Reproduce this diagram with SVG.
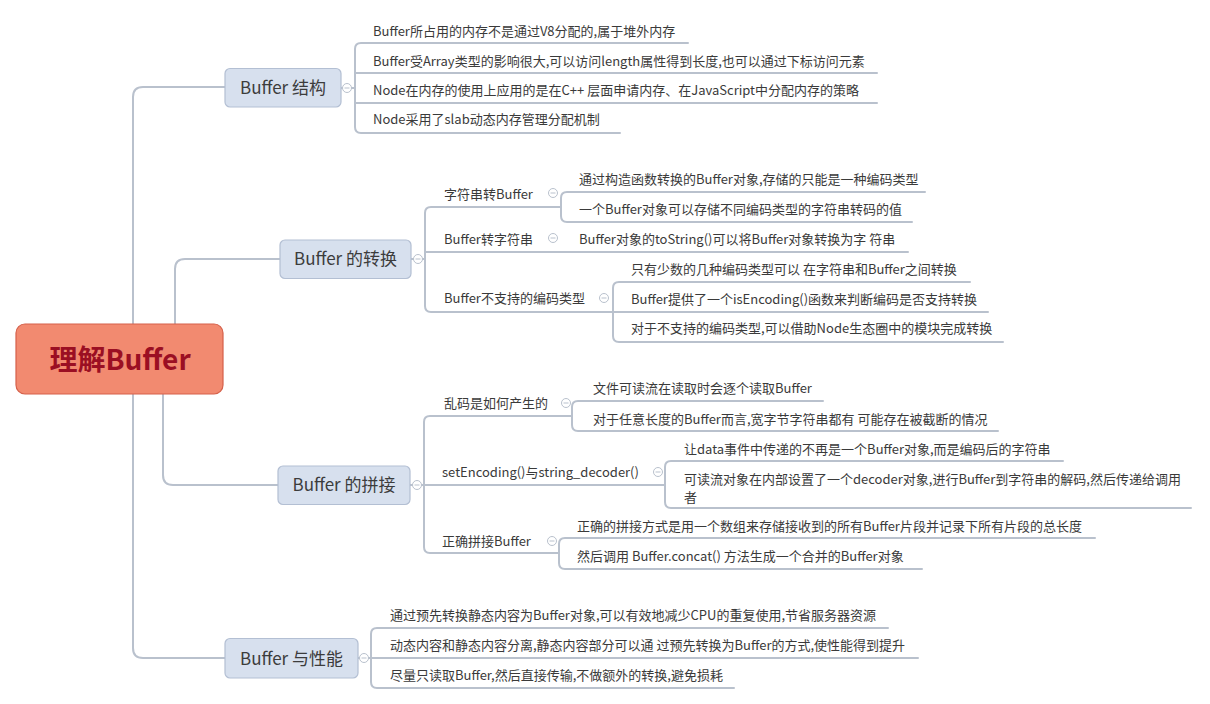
<svg xmlns="http://www.w3.org/2000/svg" width="1210" height="704" viewBox="0 0 1210 704">
<style>
.ln{fill:none;stroke:#b9c1cd;stroke-width:2;stroke-linecap:round;stroke-linejoin:round}
.tp{fill:#d7e0ee;stroke:#b3bfd3;stroke-width:1.2}
.tt{font-family:"Noto Sans CJK SC","Noto Sans",sans-serif;font-size:17px;fill:#3c3c3c;text-anchor:middle}
.t{font-family:"Noto Sans CJK SC","Noto Sans",sans-serif;font-size:13px;fill:#3a3a3a}
.cc{fill:#fff;stroke:#b9c1cd;stroke-width:1}
.cm{stroke:#b9c1cd;stroke-width:1}
</style>
<defs>
<g id="col"><circle class="cc" r="4.5"/><line class="cm" x1="-2.5" y1="0" x2="2.5" y2="0"/></g>
</defs>
<rect width="1210" height="704" fill="#fff"/>
<g id="connectors">
<path class="ln" d="M133 324 V97 Q133 87 143 87 H226"/>
<path class="ln" d="M175 324 V269 Q175 259 185 259 H280"/>
<path class="ln" d="M163 394 V475 Q163 485 173 485 H278"/>
<path class="ln" d="M133 394 V648 Q133 658 143 658 H225"/>
<path class="ln" d="M341 88 H355"/>
<path class="ln" d="M688 43 H361 Q355 43 355 49 V127 Q355 133 361 133 H620"/>
<path class="ln" d="M355 73 H877"/>
<path class="ln" d="M355 103 H877"/>
<path class="ln" d="M411 259 H425"/>
<path class="ln" d="M561 207 H431 Q425 207 425 213 V306 Q425 312 431 312 H613"/>
<path class="ln" d="M425 252 H908"/>
<path class="ln" d="M925 192 H567 Q561 192 561 198 V216 Q561 222 567 222 H912"/>
<path class="ln" d="M970 282 H619 Q613 282 613 288 V336 Q613 342 619 342 H1003"/>
<path class="ln" d="M613 312 H988"/>
<path class="ln" d="M410 485 H424"/>
<path class="ln" d="M572 416 H430 Q424 416 424 422 V547 Q424 553 430 553 H559"/>
<path class="ln" d="M424 485 H665"/>
<path class="ln" d="M823 401 H578 Q572 401 572 407 V425 Q572 431 578 431 H998"/>
<path class="ln" d="M1063 461 H671 Q665 461 665 467 V502 Q665 508 671 508 H1191"/>
<path class="ln" d="M1095 538 H565 Q559 538 559 544 V563 Q559 569 565 569 H922"/>
<path class="ln" d="M358 658 H371"/>
<path class="ln" d="M888 628 H377 Q371 628 371 634 V682 Q371 688 377 688 H734"/>
<path class="ln" d="M371 658 H918"/>
</g>
<g id="root">
<rect x="16" y="324" width="207" height="70" rx="9" fill="#f28a70" stroke="#d5604a" stroke-width="1.2"/>
<text x="120" y="369.5" font-family="'Noto Sans CJK SC','Noto Sans',sans-serif" font-size="28" font-weight="bold" fill="#9b0f23" text-anchor="middle">理解Buffer</text>
</g>
<g id="n-struct">
<rect class="tp" x="225" y="68.5" width="116" height="38.5" rx="5"/>
<text class="tt" x="283" y="94">Buffer 结构</text>
<use href="#col" x="347" y="88"/>
</g>
<g id="n-struct-1"><text class="t" x="373" y="36">Buffer所占用的内存不是通过V8分配的,属于堆外内存</text></g>
<g id="n-struct-2"><text class="t" x="373" y="66">Buffer受Array类型的影响很大,可以访问length属性得到长度,也可以通过下标访问元素</text></g>
<g id="n-struct-3"><text class="t" x="373" y="95">Node在内存的使用上应用的是在C++ 层面申请内存、在JavaScript中分配内存的策略</text></g>
<g id="n-struct-4"><text class="t" x="373" y="124">Node采用了slab动态内存管理分配机制</text></g>

<g id="n-conv">
<rect class="tp" x="280" y="240" width="131" height="38.5" rx="5"/>
<text class="tt" x="345.5" y="265">Buffer 的转换</text>
<use href="#col" x="418" y="259"/>
</g>
<g id="n-conv-a"><text class="t" x="444" y="199">字符串转Buffer</text><use href="#col" x="553" y="193"/></g>
<g id="n-conv-a1"><text class="t" x="579" y="184">通过构造函数转换的Buffer对象,存储的只能是一种编码类型</text></g>
<g id="n-conv-a2"><text class="t" x="579" y="214">一个Buffer对象可以存储不同编码类型的字符串转码的值</text></g>
<g id="n-conv-b"><text class="t" x="444" y="244">Buffer转字符串</text><use href="#col" x="553" y="238"/></g>
<g id="n-conv-b1"><text class="t" x="579" y="244">Buffer对象的toString()可以将Buffer对象转换为字 符串</text></g>
<g id="n-conv-c"><text class="t" x="444" y="303">Buffer不支持的编码类型</text><use href="#col" x="604" y="298"/></g>
<g id="n-conv-c1"><text class="t" x="631" y="274">只有少数的几种编码类型可以 在字符串和Buffer之间转换</text></g>
<g id="n-conv-c2"><text class="t" x="631" y="304">Buffer提供了一个isEncoding()函数来判断编码是否支持转换</text></g>
<g id="n-conv-c3"><text class="t" x="631" y="333">对于不支持的编码类型,可以借助Node生态圈中的模块完成转换</text></g>

<g id="n-concat">
<rect class="tp" x="278" y="466" width="132" height="38.5" rx="5"/>
<text class="tt" x="344" y="491">Buffer 的拼接</text>
<use href="#col" x="417" y="485"/>
</g>
<g id="n-concat-a"><text class="t" x="444" y="408">乱码是如何产生的</text><use href="#col" x="566" y="403"/></g>
<g id="n-concat-a1"><text class="t" x="593" y="393">文件可读流在读取时会逐个读取Buffer</text></g>
<g id="n-concat-a2"><text class="t" x="593" y="424">对于任意长度的Buffer而言,宽字节字符串都有 可能存在被截断的情况</text></g>
<g id="n-concat-b"><text class="t" x="442" y="477">setEncoding()与string_decoder()</text><use href="#col" x="658" y="472"/></g>
<g id="n-concat-b1"><text class="t" x="684" y="454">让data事件中传递的不再是一个Buffer对象,而是编码后的字符串</text></g>
<g id="n-concat-b2"><text class="t" x="684" y="484">可读流对象在内部设置了一个decoder对象,进行Buffer到字符串的解码,然后传递给调用</text><text class="t" x="684" y="502">者</text></g>
<g id="n-concat-c"><text class="t" x="442" y="546">正确拼接Buffer</text><use href="#col" x="552" y="541"/></g>
<g id="n-concat-c1"><text class="t" x="577" y="531">正确的拼接方式是用一个数组来存储接收到的所有Buffer片段并记录下所有片段的总长度</text></g>
<g id="n-concat-c2"><text class="t" x="577" y="561">然后调用 Buffer.concat() 方法生成一个合并的Buffer对象</text></g>

<g id="n-perf">
<rect class="tp" x="225" y="638.5" width="133" height="39.5" rx="5"/>
<text class="tt" x="291.5" y="664.5">Buffer 与性能</text>
<use href="#col" x="364" y="658"/>
</g>
<g id="n-perf-1"><text class="t" x="390" y="620">通过预先转换静态内容为Buffer对象,可以有效地减少CPU的重复使用,节省服务器资源</text></g>
<g id="n-perf-2"><text class="t" x="390" y="650">动态内容和静态内容分离,静态内容部分可以通 过预先转换为Buffer的方式,使性能得到提升</text></g>
<g id="n-perf-3"><text class="t" x="390" y="680">尽量只读取Buffer,然后直接传输,不做额外的转换,避免损耗</text></g>
</svg>
